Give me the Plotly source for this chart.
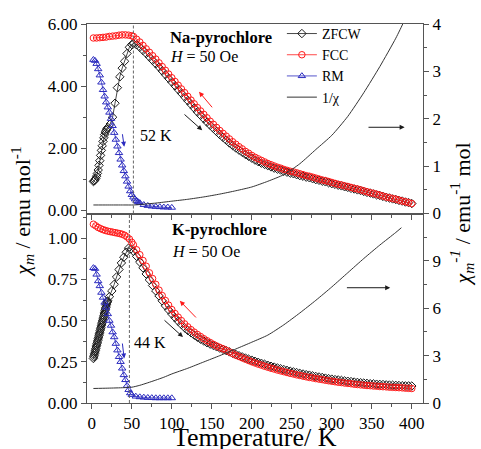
import plotly.graph_objects as go

# ---------------- Na-pyrochlore (top panel) ----------------
GRID_HI = list(range(52, 401, 4))   # common high-T temperature grid (K)

NA_ZFCW_T = list(range(2, 21)) + [23, 26, 29, 32, 35, 38, 41, 44, 47, 50] + GRID_HI
NA_ZFCW = [0.93,0.95,0.98,1.03,1.10,1.19,1.30,1.45,1.60,1.77,1.93,2.08,2.22,2.34,2.44,2.52,2.58,2.63,2.67,
           2.78,3.00,3.45,3.95,4.30,4.58,4.80,5.05,5.25,5.34,
           5.37,5.33,5.25,5.15,5.05,4.94,4.83,4.72,4.61,4.49,4.37,4.25,4.13,
           4.01,3.89,3.77,3.65,3.53,3.41,3.29,3.17,3.06,2.95,2.84,2.74,2.64,2.54,2.44,2.35,2.26,2.17,2.09,2.01,1.94,1.87,1.80,1.74,1.68,
           1.62,1.57,1.52,1.48,1.44,1.40,1.36,1.33,1.30,1.26,1.23,1.20,1.18,1.15,1.12,1.10,1.07,1.05,1.02,0.99,0.97,0.94,0.92,0.89,0.86,
           0.84,0.81,0.79,0.76,0.74,0.71,0.69,0.66,0.64,0.61,0.58,0.56,0.53,0.50,0.48,0.45,0.42,0.40,0.37,0.35,0.32,0.30,0.27,0.25,0.22]

NA_FCC_T = list(range(2, 51, 4)) + GRID_HI
NA_FCC = [5.55,5.55,5.56,5.57,5.58,5.60,5.61,5.62,5.64,5.65,5.65,5.64,5.62,
          5.60,5.51,5.42,5.31,5.20,5.09,4.98,4.87,4.75,4.63,4.51,4.39,4.27,
          4.15,4.03,3.91,3.79,3.67,3.55,3.43,3.31,3.20,3.09,2.98,2.87,2.77,2.67,2.57,2.48,2.39,2.30,2.21,2.13,2.05,1.98,1.90,1.84,1.77,
          1.71,1.66,1.61,1.56,1.51,1.47,1.43,1.39,1.36,1.32,1.29,1.26,1.24,1.21,1.18,1.15,1.12,1.10,1.07,1.04,1.01,0.98,0.96,0.93,0.90,
          0.87,0.84,0.82,0.79,0.77,0.74,0.71,0.69,0.66,0.63,0.60,0.57,0.55,0.52,0.49,0.46,0.43,0.41,0.38,0.36,0.33,0.30,0.28,0.25,0.22]

NA_RM_T = list(range(2, 61, 2)) + [65, 70, 75, 80, 85, 90, 95, 100]
NA_RM = [4.85,4.82,4.72,4.55,4.35,4.12,3.88,3.67,3.48,3.32,3.15,2.95,2.72,2.50,2.28,2.06,1.85,1.64,1.45,1.27,
         1.10,0.93,0.77,0.62,0.50,0.42,0.36,0.31,0.27,0.24,
         0.18,0.15,0.13,0.12,0.11,0.10,0.10,0.09]

NA_INV_T = [2,20,40,52,60,80,100,120,140,160,180,200,220,240,260,280,300,320,340,360,380,390,395]
NA_INV = [0.18,0.18,0.18,0.18,0.19,0.22,0.26,0.30,0.35,0.41,0.48,0.56,0.68,0.82,1.05,1.35,1.65,2.05,2.55,3.10,3.70,4.05,4.30]

# ---------------- K-pyrochlore (bottom panel) ----------------
K_ZFCW_T = [x / 2 for x in range(4, 41)] + [22, 25, 28, 31, 34, 37, 40, 43, 46, 49] + GRID_HI
K_ZFCW = [0.27,0.28,0.29,0.30,0.31,0.32,0.33,0.34,0.35,0.36,0.37,0.38,0.39,0.40,0.41,0.42,0.43,0.44,0.45,
          0.46,0.47,0.48,0.49,0.50,0.51,0.52,0.53,0.54,0.55,0.56,0.57,0.58,0.59,0.60,0.61,0.615,0.62,
          0.645,0.68,0.72,0.765,0.81,0.85,0.885,0.915,0.94,0.935,
          0.92,0.89,0.855,0.82,0.783,0.747,0.713,0.68,0.65,0.62,0.59,0.565,0.54,
          0.518,0.496,0.476,0.457,0.44,0.426,0.412,0.399,0.387,0.376,0.366,0.357,0.349,0.341,0.333,0.326,0.318,0.31,0.302,0.295,
          0.287,0.28,0.273,0.266,0.26,
          0.253,0.247,0.241,0.235,0.229,0.223,0.218,0.213,0.208,0.203,0.198,0.193,0.189,0.185,0.18,0.176,0.172,0.169,0.165,0.161,
          0.158,0.155,0.151,0.148,0.145,
          0.142,0.14,0.137,0.134,0.132,0.13,0.127,0.125,0.123,0.121,0.119,0.117,0.116,0.114,0.113,0.112,0.11,0.109,0.108,0.107,
          0.106,0.105,0.104,0.104,0.103]

K_FCC_T = [2,5,8,11,14,17,20,23,26,29,32,35,38,41,44,47,50] + GRID_HI
K_FCC = [1.085,1.075,1.065,1.058,1.052,1.047,1.043,1.040,1.037,1.034,1.031,1.028,1.024,1.018,1.008,0.995,0.975,
         0.96,0.93,0.90,0.865,0.83,0.79,0.755,0.72,0.685,0.652,0.622,0.594,0.567,
         0.543,0.521,0.50,0.48,0.462,0.445,0.43,0.416,0.403,0.39,0.378,0.367,0.356,0.346,0.337,0.329,0.32,0.31,0.30,0.29,
         0.282,0.274,0.266,0.258,0.25,
         0.243,0.236,0.23,0.223,0.217,0.211,0.206,0.20,0.195,0.19,0.185,0.18,0.176,0.171,0.167,0.163,0.159,0.155,0.152,0.148,
         0.145,0.142,0.138,0.135,0.132,
         0.129,0.126,0.124,0.121,0.119,0.117,0.114,0.112,0.11,0.108,0.106,0.105,0.103,0.102,0.10,0.099,0.098,0.096,0.095,0.094,
         0.093,0.092,0.09,0.089,0.088]

K_RM_T = list(range(2, 51, 2)) + list(range(55, 101, 5))
K_RM = [0.82,0.815,0.78,0.74,0.71,0.67,0.64,0.61,0.58,0.54,0.50,0.47,0.43,0.40,0.36,0.32,0.28,0.25,0.21,0.17,
        0.14,0.105,0.08,0.06,0.05,
        0.04,0.036,0.034,0.032,0.031,0.03,0.03,0.03,0.03,0.03]

K_INV_T = [2,20,40,50,60,70,80,90,100,120,140,160,180,200,220,240,260,280,300,320,340,360,380,387]
K_INV = [0.92,0.94,0.97,1.0,1.12,1.28,1.45,1.63,1.84,2.2,2.6,3.0,3.42,3.85,4.3,4.95,5.7,6.5,7.35,8.25,9.15,10.0,10.8,11.1]

TRANSITION_T = [52, 47]          # dashed lines (Na, K)
TRANSITION_LABELS = ["52 K", "44 K"]

for a, b in [(NA_ZFCW_T, NA_ZFCW), (NA_FCC_T, NA_FCC), (NA_RM_T, NA_RM), (NA_INV_T, NA_INV),
             (K_ZFCW_T, K_ZFCW), (K_FCC_T, K_FCC), (K_RM_T, K_RM), (K_INV_T, K_INV)]:
    assert len(a) == len(b), (len(a), len(b))

FONT = "Liberation Serif, Times New Roman, serif"
BLACK = "#1a1a1a"
RED = "#ff1a1a"
BLUE = "#2b2bbf"
AX = "#555555"
MS = 6.5

fig = go.Figure()

def add_panel(xa, yl, yr, zt, zv, ft, fv, rt, rv, it, iv, legend):
    fig.add_trace(go.Scatter(x=zt, y=zv, mode="lines+markers", name="ZFCW", xaxis=xa, yaxis=yl,
                             line=dict(color=BLACK, width=0.8),
                             marker=dict(symbol="diamond-open", size=MS, color=BLACK, line=dict(width=1)),
                             showlegend=legend, legendgroup="z"))
    fig.add_trace(go.Scatter(x=ft, y=fv, mode="lines+markers", name="FCC", xaxis=xa, yaxis=yl,
                             line=dict(color=RED, width=0.8),
                             marker=dict(symbol="circle-open", size=MS, color=RED, line=dict(width=1)),
                             showlegend=legend, legendgroup="f"))
    fig.add_trace(go.Scatter(x=rt, y=rv, mode="lines+markers", name="RM", xaxis=xa, yaxis=yl,
                             line=dict(color=BLUE, width=0.8),
                             marker=dict(symbol="triangle-up-open", size=MS, color=BLUE, line=dict(width=1)),
                             showlegend=legend, legendgroup="r"))
    fig.add_trace(go.Scatter(x=it, y=iv, mode="lines", name="1/χ", xaxis=xa, yaxis=yr,
                             line=dict(color="#333333", width=1, shape="spline", smoothing=0.6),
                             showlegend=legend, legendgroup="i"))

add_panel("x2", "y3", "y4", NA_ZFCW_T, NA_ZFCW, NA_FCC_T, NA_FCC, NA_RM_T, NA_RM, NA_INV_T, NA_INV, True)
add_panel("x", "y", "y2", K_ZFCW_T, K_ZFCW, K_FCC_T, K_FCC, K_RM_T, K_RM, K_INV_T, K_INV, False)

tickfont = dict(family=FONT, size=17, color="black")
common = dict(showline=True, linecolor=AX, linewidth=1, ticks="outside", ticklen=5, tickcolor=AX,
              showgrid=False, zeroline=False, tickfont=tickfont)
XR = [-6, 414]

fig.update_layout(
    width=481, height=449,
    margin=dict(l=87, r=58, t=24, b=46),
    paper_bgcolor="white", plot_bgcolor="white",
    font=dict(family=FONT, color="black"),
    xaxis=dict(domain=[0, 1], anchor="y", range=XR, dtick=50, mirror=True,
               minor=dict(dtick=25, ticklen=3, ticks="outside", tickcolor=AX), **common),
    xaxis2=dict(domain=[0, 1], anchor="y3", range=XR, dtick=50, mirror=True, showticklabels=False,
                minor=dict(dtick=25, ticklen=3, ticks="outside", tickcolor=AX), **common),
    yaxis=dict(domain=[0, 0.5], anchor="x", range=[0, 1.15], dtick=0.25, tickformat=".2f",
               minor=dict(dtick=0.125, ticklen=3, ticks="outside", tickcolor=AX), **common),
    yaxis2=dict(overlaying="y", side="right", anchor="x", range=[0, 12], tickmode="array",
                tickvals=[0, 3, 6, 9],
                minor=dict(tickmode="array", tickvals=[1.5, 4.5, 7.5, 10.5], ticklen=3, ticks="outside", tickcolor=AX),
                **common),
    yaxis3=dict(domain=[0.5, 1], anchor="x2", range=[-0.1, 6.0], dtick=2, tickformat=".2f",
                minor=dict(dtick=1, ticklen=3, ticks="outside", tickcolor=AX), **common),
    yaxis4=dict(overlaying="y3", side="right", anchor="x2", range=[0, 4], dtick=1,
                minor=dict(dtick=0.5, ticklen=3, ticks="outside", tickcolor=AX), **common),
    legend=dict(x=0.58, y=1.016, xanchor="left", yanchor="top", bgcolor="rgba(0,0,0,0)",
                font=dict(family=FONT, size=14, color="black"), tracegroupgap=0, itemwidth=30),
    showlegend=True,
)

# dashed transition lines
fig.add_shape(type="line", xref="x2", yref="y3 domain", x0=TRANSITION_T[0], x1=TRANSITION_T[0], y0=0, y1=1,
              line=dict(color="#666666", width=1, dash="3px,2px"))
fig.add_shape(type="line", xref="x", yref="y domain", x0=TRANSITION_T[1], x1=TRANSITION_T[1], y0=0, y1=1,
              line=dict(color="#666666", width=1, dash="3px,2px"))

ann = []
def txt(text, x, y, xref, yref, size=16, xanchor="left"):
    ann.append(dict(text=text, x=x, y=y, xref=xref, yref=yref, showarrow=False, xanchor=xanchor,
                    yanchor="middle", font=dict(family=FONT, size=size, color="black")))

txt("<b>Na-pyrochlore</b>", 95, 5.56, "x2", "y3", 16.5)
txt("<i>H</i> = 50 Oe", 95, 4.95, "x2", "y3", 16)
txt(TRANSITION_LABELS[0], 58, 2.42, "x2", "y3", 16)
txt("<b>K-pyrochlore</b>", 98, 1.055, "x", "y", 16.5)
txt("<i>H</i> = 50 Oe", 98, 0.92, "x", "y", 16)
txt(TRANSITION_LABELS[1], 50, 0.37, "x", "y", 16)

def arrow(x, y, ax, ay, xref, yref, color):
    ann.append(dict(x=x, y=y, ax=ax, ay=ay, xref=xref, yref=yref, axref=xref, ayref=yref,
                    showarrow=True, arrowhead=2, arrowsize=1, arrowwidth=1, arrowcolor=color, text=""))

# top panel arrows
arrow(134, 3.82, 152, 3.27, "x2", "y3", RED)
arrow(138, 2.58, 114, 3.13, "x2", "y3", BLACK)
arrow(40.5, 2.05, 38, 2.5, "x2", "y3", BLUE)
arrow(391, 1.82, 344, 1.82, "x2", "y4", BLACK)
# bottom panel arrows
arrow(110, 0.62, 132, 0.51, "x", "y", RED)
arrow(114, 0.40, 89, 0.51, "x", "y", BLACK)
arrow(40.5, 0.27, 38, 0.37, "x", "y", BLUE)
arrow(373, 7.3, 317, 7.3, "x", "y2", BLACK)

# axis titles
ann.append(dict(text="<i>χ<sub>m</sub></i> / emu mol<sup>-1</sup>", x=-0.193, y=0.505, xref="paper", yref="paper",
                textangle=-90, showarrow=False, xanchor="center", yanchor="middle",
                font=dict(family=FONT, size=22, color="black")))
ann.append(dict(text="<i>χ<sub>m</sub><sup>-1</sup></i> / emu<sup>-1</sup> mol", x=1.116, y=0.5, xref="paper",
                yref="paper", textangle=-90, showarrow=False, xanchor="center", yanchor="middle",
                font=dict(family=FONT, size=22, color="black")))
ann.append(dict(text="Temperature/ K", x=0.5, y=-0.092, xref="paper", yref="paper", showarrow=False,
                xanchor="center", yanchor="middle", font=dict(family=FONT, size=26, color="black")))

fig.update_layout(annotations=ann)
fig.write_html("out.html")
